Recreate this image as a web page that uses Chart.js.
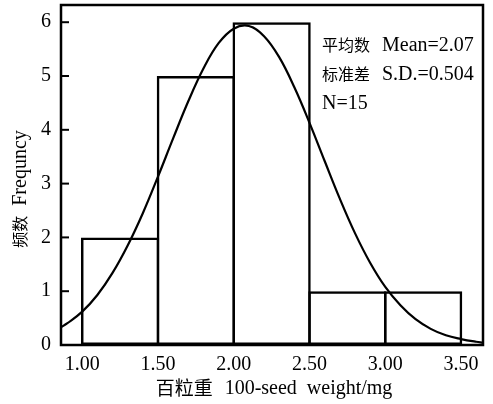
<!DOCTYPE html>
<html lang="zh">
<head>
  <meta charset="UTF-8" />
  <title>百粒重分布</title>
  <script src="https://cdn.jsdelivr.net/npm/chart.js"></script>
  <style>
    * { margin: 0; padding: 0; box-sizing: border-box; }
    body { background: #fff; }
    .wrap { width: 493px; height: 404px; }
  </style>
</head>
<body>
  <div class="wrap"><canvas id="histChart"></canvas></div>

  <script>
    // histogram bins (left edges, width 0.5) and counts
    const binEdges = [1.0, 1.5, 2.0, 2.5, 3.0];
    const binWidth = 0.5;
    const counts = [2, 5, 6, 1, 1];

    // fitted normal curve
    const curveX = [0.86, 0.9, 1.0, 1.1, 1.2, 1.3, 1.4, 1.5, 1.6, 1.7, 1.8, 1.9, 2.0, 2.1, 2.2, 2.3,
                    2.4, 2.5, 2.6, 2.7, 2.8, 2.9, 3.0, 3.1, 3.2, 3.3, 3.4, 3.5, 3.6, 3.645];
    const curveY = [0.33, 0.40, 0.62, 0.93, 1.34, 1.85, 2.45, 3.13, 3.84, 4.53, 5.14, 5.61, 5.88, 5.93, 5.74, 5.35,
                    4.79, 4.13, 3.42, 2.72, 2.08, 1.53, 1.08, 0.74, 0.48, 0.30, 0.18, 0.11, 0.06, 0.045];

    const xTicks = [1.0, 1.5, 2.0, 2.5, 3.0, 3.5];
    const yTicks = [0, 1, 2, 3, 4, 5, 6];

    const statLabels = ['平均数', '标准差', ''];
    const statValues = ['Mean=2.07', 'S.D.=0.504', 'N=15'];
    const yTitleCn = '频数';
    const yTitleEn = 'Frequncy';
    const xTitleCn = '百粒重';
    const xTitleEn = '100-seed  weight/mg';

    const serif = "'Liberation Serif', 'Noto Sans CJK SC', serif";
    const cjk = "'Noto Sans CJK SC', sans-serif";
    const BW = 2.5;

    const framePlugin = {
      id: 'frame',
      afterDraw(chart) {
        const { ctx, chartArea: a, scales } = chart;
        ctx.save();
        ctx.strokeStyle = '#000';
        ctx.lineWidth = BW;
        ctx.strokeRect(a.left, a.top, a.right - a.left, a.bottom - a.top);

        // inward ticks on the y axis
        ctx.lineWidth = 2;
        yTicks.forEach(v => {
          const y = scales.y.getPixelForValue(v);
          ctx.beginPath();
          ctx.moveTo(a.left, y);
          ctx.lineTo(a.left + 8, y);
          ctx.stroke();
        });

        // stats text
        ctx.fillStyle = '#000';
        ctx.textBaseline = 'middle';
        ctx.textAlign = 'left';
        statValues.forEach((t, i) => {
          const y = 45 + i * 29;
          let x = 322;
          if (statLabels[i]) {
            ctx.font = '16px ' + cjk;
            ctx.fillText(statLabels[i], x, y);
            x += ctx.measureText(statLabels[i]).width + 12;
          }
          ctx.font = '20px ' + serif;
          ctx.fillText(t, x, y + 1);
        });

        // x title
        ctx.font = '19px ' + cjk;
        const wXCn = ctx.measureText(xTitleCn).width;
        ctx.font = '20px ' + serif;
        const wXEn = ctx.measureText(xTitleEn).width;
        const xGap = 12;
        const xs = (a.left + a.right) / 2 + 2 - (wXCn + xGap + wXEn) / 2;
        ctx.font = '19px ' + cjk;
        ctx.fillText(xTitleCn, xs, 388);
        ctx.font = '20px ' + serif;
        ctx.fillText(xTitleEn, xs + wXCn + xGap, 389);

        // y title (rotated)
        ctx.translate(20, 189);
        ctx.rotate(-Math.PI / 2);
        ctx.font = '20px ' + serif;
        const wEn = ctx.measureText(yTitleEn).width;
        ctx.font = '16px ' + cjk;
        const wCn = ctx.measureText(yTitleCn).width;
        const gap = 10;
        const x0 = -(wEn + wCn + gap) / 2;
        ctx.fillText(yTitleCn, x0, 0);
        ctx.font = '20px ' + serif;
        ctx.fillText(yTitleEn, x0 + wCn + gap, 1);
        ctx.restore();
      }
    };

    new Chart(document.getElementById('histChart'), {
      type: 'bar',
      data: {
        datasets: [
          {
            type: 'line',
            data: curveX.map((x, i) => ({ x, y: curveY[i] })),
            borderColor: '#000',
            borderWidth: 2.2,
            pointRadius: 0,
            tension: 0.4,
            fill: false,
            order: 0
          },
          {
            type: 'bar',
            data: binEdges.map((e, i) => ({ x: e + binWidth / 2, y: counts[i] })),
            backgroundColor: 'rgba(0,0,0,0)',
            borderColor: '#000',
            borderWidth: BW,
            borderSkipped: false,
            barPercentage: 1.033,
            categoryPercentage: 1,
            order: 1
          }
        ]
      },
      options: {
        responsive: true,
        maintainAspectRatio: false,
        animation: false,
        layout: { padding: { top: 5, right: 10, left: 0, bottom: 0 } },
        plugins: { legend: { display: false }, tooltip: { enabled: false } },
        scales: {
          x: {
            type: 'linear',
            min: 0.86,
            max: 3.645,
            offset: false,
            grid: { display: false, offset: false, drawTicks: false },
            border: { display: false },
            afterBuildTicks: s => { s.ticks = xTicks.map(v => ({ value: v })); },
            afterFit: s => { s.height = 59; s.paddingLeft = 0; s.paddingRight = 0; },
            ticks: {
              color: '#000',
              font: { family: serif, size: 20 },
              padding: 8,
              maxRotation: 0,
              callback: v => v.toFixed(2)
            }
          },
          y: {
            min: 0,
            max: 6.32,
            grid: { display: false, drawTicks: false },
            border: { display: false },
            afterBuildTicks: s => { s.ticks = yTicks.map(v => ({ value: v })); },
            afterFit: s => { s.width = 61; s.paddingTop = 0; s.paddingBottom = 0; },
            ticks: {
              color: '#000',
              font: { family: serif, size: 20 },
              padding: 10
            }
          }
        }
      },
      plugins: [framePlugin]
    });
  </script>
</body>
</html>
